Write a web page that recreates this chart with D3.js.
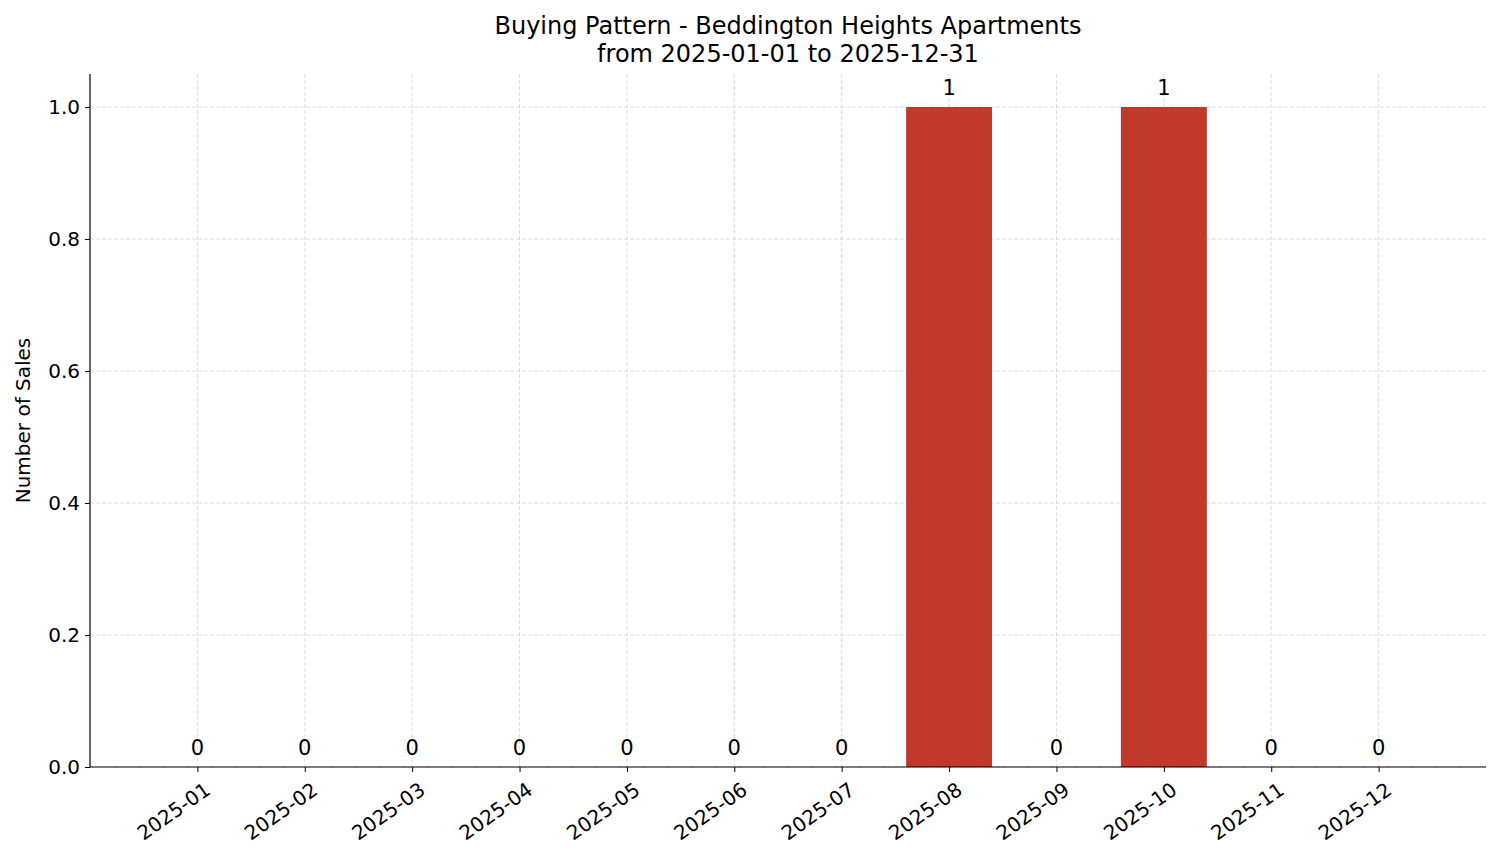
<!DOCTYPE html>
<html><head><meta charset="utf-8">
<script src="https://cdn.jsdelivr.net/npm/d3@7"></script>
<style>body{margin:0;background:#fff}svg{font-family:"DejaVu Sans",sans-serif}</style>
</head><body>
<script>
const months=["2025-01","2025-02","2025-03","2025-04","2025-05","2025-06","2025-07","2025-08","2025-09","2025-10","2025-11","2025-12"];
const sales=[0,0,0,0,0,0,0,1,0,1,0,0];
const yTicks=[0,0.2,0.4,0.6,0.8,1.0];
const W=1501,H=863,L=90,R=1486,T=74,B=767;
const svg=d3.select("body").append("svg").attr("width",W).attr("height",H);
const x=d3.scaleLinear().domain([-1,12]).range([L,R]);
const y=d3.scaleLinear().domain([0,1.05]).range([B,T]);
const g=svg.append("g");
g.selectAll(".gy").data(yTicks).join("line").attr("x1",L).attr("x2",R).attr("y1",d=>y(d)).attr("y2",d=>y(d)).attr("stroke","#ccc").attr("stroke-width",0.8).attr("stroke-dasharray","4,2").attr("opacity",0.8);
g.selectAll(".gx").data(months).join("line").attr("x1",(d,i)=>x(i)).attr("x2",(d,i)=>x(i)).attr("y1",T).attr("y2",B).attr("stroke","#ccc").attr("stroke-width",0.8).attr("stroke-dasharray","4,2").attr("opacity",0.8);
const bw=x(0.4)-x(0);
g.selectAll("rect").data(sales).join("rect").attr("x",(d,i)=>x(i)-bw).attr("width",bw*2).attr("y",d=>y(d)).attr("height",d=>B-y(d)).attr("fill","#c0392b");
g.selectAll(".lbl").data(sales).join("text").attr("x",(d,i)=>x(i)).attr("y",d=>y(d)-12).attr("text-anchor","middle").attr("font-size",21).text(d=>d);
const ya=svg.append("g").attr("transform",`translate(${L},0)`).call(d3.axisLeft(y).tickValues(yTicks).tickFormat(d3.format(".1f")).tickSizeOuter(0).tickSize(5));
ya.select(".domain").remove();
svg.append("line").attr("x1",L).attr("x2",L).attr("y1",T).attr("y2",B).attr("stroke","#000").attr("stroke-width",1.2);
ya.selectAll("text").attr("font-size",20).attr("font-family","DejaVu Sans").attr("fill","#000").attr("x",-10);
const xa=svg.append("g").attr("transform",`translate(0,${B})`).call(d3.axisBottom(x).tickValues(d3.range(12)).tickFormat(i=>months[i]).tickSize(5));
xa.select(".domain").remove();
svg.append("line").attr("x1",L).attr("x2",R).attr("y1",B).attr("y2",B).attr("stroke","#000").attr("stroke-width",1.2);
xa.selectAll("text").attr("font-size",20).attr("font-family","DejaVu Sans").attr("fill","#000").attr("text-anchor","end").attr("y",0).attr("dy",0).attr("transform","translate(14,26) rotate(-35)");
svg.append("text").attr("transform",`translate(30,${(T+B)/2}) rotate(-90)`).attr("text-anchor","middle").attr("font-size",20).text("Number of Sales");
svg.append("text").attr("x",788).attr("y",34).attr("text-anchor","middle").attr("font-size",24).text("Buying Pattern - Beddington Heights Apartments");
svg.append("text").attr("x",788).attr("y",62).attr("text-anchor","middle").attr("font-size",24).text("from 2025-01-01 to 2025-12-31");
</script>
</body></html>
